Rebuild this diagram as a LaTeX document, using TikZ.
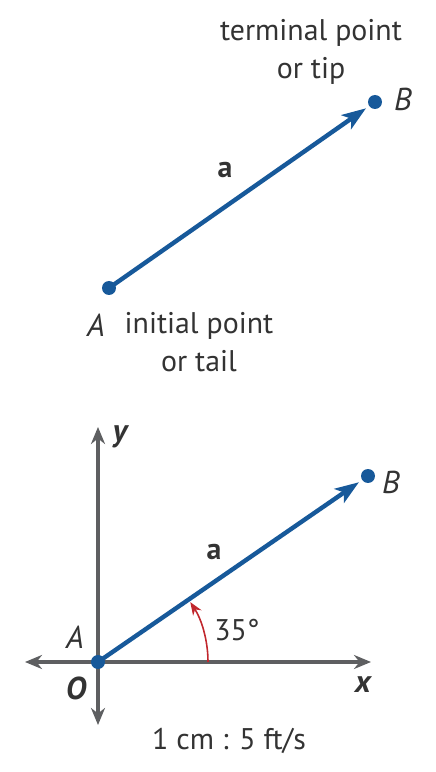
\documentclass[tikz,border=0pt]{standalone}
\usepackage{fontspec}
\setmainfont{PT Sans}
\usetikzlibrary{arrows.meta,positioning}
\definecolor{vecblue}{HTML}{17599A}
\definecolor{axisgray}{HTML}{5E5F61}
\definecolor{anglered}{HTML}{C1272D}
\definecolor{labelgray}{HTML}{333333}

\begin{document}
\begin{tikzpicture}[
  x=0.02cm, y=0.02cm,
  dot/.style={circle, fill=vecblue, inner sep=0pt, minimum size=2.8mm},
  vec/.style={vecblue, line width=2.5pt, -{Stealth[length=4.8mm, width=3.4mm, inset=1.2mm]}},
  axis/.style={axisgray, line width=1.9pt, {Stealth[length=3.4mm, width=2.8mm]}-{Stealth[length=3.4mm, width=2.8mm]}},
  lbl/.style={font=\fontsize{17}{21}\selectfont, text=labelgray, inner sep=0pt},
  ptlabel/.style={lbl, font=\fontsize{18}{21}\selectfont\itshape},
  axlabel/.style={lbl, font=\fontsize{18}{21}\selectfont\bfseries\itshape}
]
\useasboundingbox (0,0) rectangle (436,772);

% TOP VECTOR
\node[dot] (tail) at (109,484) {};
\node[dot] (tip) at (375,670) {};
\draw[vec, shorten >=2.2mm] (tail.center) -- (tip.center);
\node[lbl, font=\fontsize{17}{21}\selectfont\bfseries] (veca) at (225,602) {a};
\node[ptlabel] (labA) at (96,447) {A};
\node[ptlabel] (labB) at (403,673) {B};
\node[lbl, align=center] (termtext) at (311,720) {terminal point\\[1pt]or tip};
\node[lbl, align=center] (inittext) at (199,430) {initial point\\[1pt]or tail};

% COORDINATE PLANE
\coordinate (origin) at (98,110);
\coordinate (xleft) at (25,110);
\coordinate (xright) at (371,110);
\coordinate (ybot) at (98,47);
\coordinate (ytop) at (98,345);
\draw[axis] (xleft) -- (xright);
\draw[axis] (ybot) -- (ytop);
\node[dot] (tailO) at (origin) {};
\node[dot] (tipO) at (368,296) {};
\draw[vec, shorten >=2.2mm] (tailO.center) -- (tipO.center);

% angle marker
\draw[anglered, line width=0.9pt, -{Stealth[length=2.6mm, width=2mm]}]
  (origin) ++(0:110) arc[start angle=0, end angle=33, radius=110];
\node[lbl] (angle) at (237,142) {35°};

\node[lbl, font=\fontsize{17}{21}\selectfont\bfseries] (vecaO) at (214,220) {a};
\node[ptlabel] (labAO) at (75,135) {A};
\node[ptlabel] (labBO) at (391,290) {B};
\node[axlabel] (labO) at (76,84) {O};
\node[axlabel] (labx) at (363,87) {x};
\node[axlabel] (laby) at (120,335) {y};
\node[lbl] (scale) at (229,31) {1 cm : 5 ft/s};

\end{tikzpicture}
\end{document}
